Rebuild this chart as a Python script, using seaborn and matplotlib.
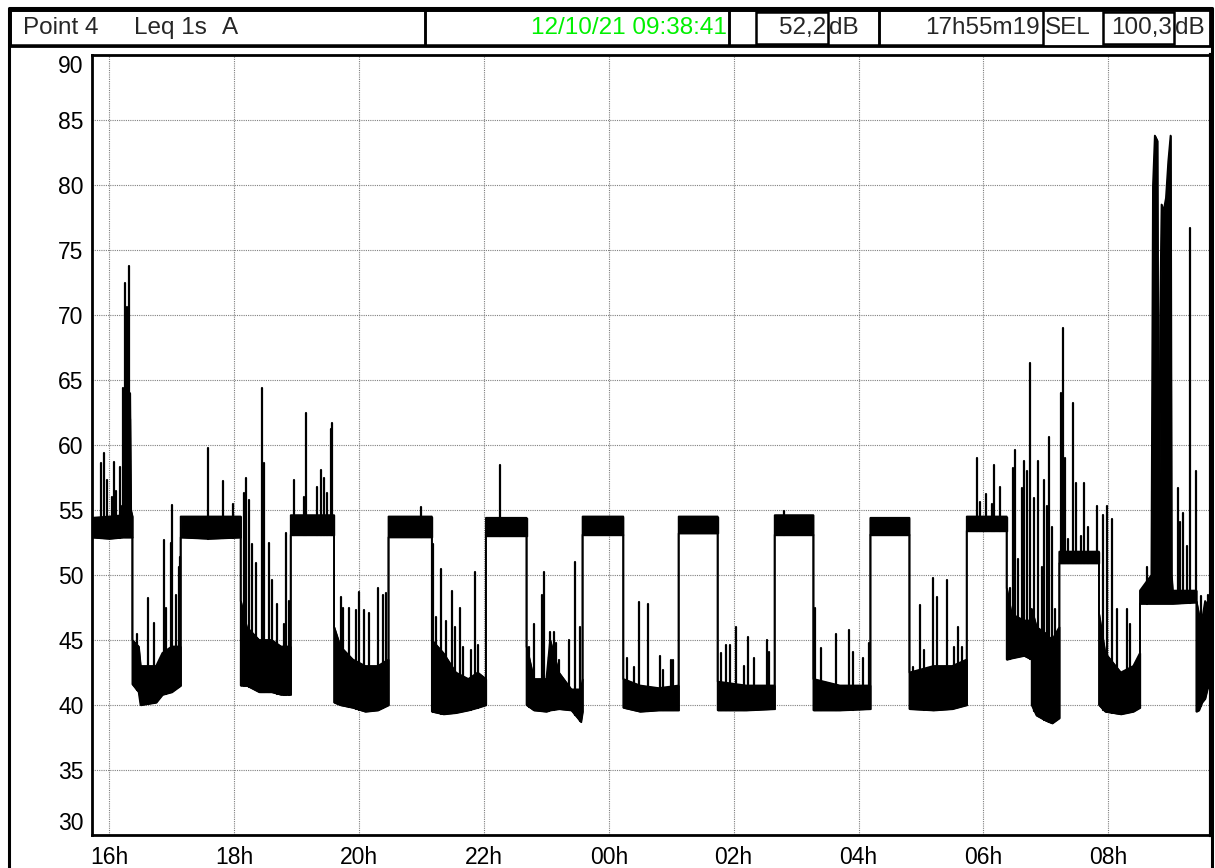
import numpy as np
import pandas as pd
import matplotlib
matplotlib.use("Agg")
import matplotlib.pyplot as plt
import seaborn as sns
from matplotlib.patches import Rectangle

# time in hours from midnight of the first day (values above 24 = next morning)
# band = dense 1s trace, given as low / high envelope
band_t = [15.72, 16.0, 16.22, 16.225, 16.245, 16.33, 16.345, 16.37,
          16.37, 16.47, 16.50, 16.75, 16.85, 17.00, 17.143,
          17.143, 17.6, 18.105,
          18.105, 18.20, 18.40, 18.60, 18.75, 18.906,
          18.906, 19.60,
          19.60, 19.70, 19.90, 20.10, 20.30, 20.472,
          20.472, 21.166,
          21.166, 21.35, 21.55, 21.75, 21.90, 22.032,
          22.032, 22.683,
          22.683, 22.80, 23.00, 23.06, 23.20, 23.40, 23.554, 23.58,
          23.58, 24.232,
          24.232, 24.50, 24.80, 25.119,
          25.119, 25.744,
          25.744, 26.20, 26.657,
          26.657, 27.277,
          27.277, 27.70, 28.19,
          28.19, 28.815,
          28.815, 29.20, 29.50, 29.733,
          29.733, 30.373,
          30.373, 30.45, 30.65, 30.773,
          30.773, 30.85, 31.00, 31.10, 31.216,
          31.216, 31.851,
          31.851, 31.95, 32.20, 32.40, 32.507,
          32.507, 32.69, 32.715, 32.745, 32.785, 32.80, 32.815, 32.83, 32.853,
          32.885, 32.923, 32.96, 32.997, 33.013, 33.03, 33.41,
          33.41, 33.45, 33.50, 33.55, 33.60, 33.6447]
band_lo = [52.9, 52.8, 52.9, 52.9, 52.9, 52.9, 52.9, 52.9,
           41.6, 41.0, 40.0, 40.2, 40.8, 41.0, 41.5,
           52.9, 52.8, 52.9,
           41.5, 41.5, 41.0, 41.0, 40.8, 40.8,
           53.1, 53.1,
           40.2, 40.0, 39.8, 39.5, 39.6, 40.0,
           52.9, 52.9,
           39.5, 39.3, 39.4, 39.6, 39.8, 40.0,
           53.0, 53.0,
           40.0, 39.6, 39.5, 39.6, 39.7, 39.6, 38.7, 39.5,
           53.1, 53.1,
           39.8, 39.5, 39.6, 39.6,
           53.2, 53.2,
           39.6, 39.6, 39.7,
           53.1, 53.1,
           39.6, 39.6, 39.7,
           53.1, 53.1,
           39.7, 39.6, 39.7, 40.0,
           53.4, 53.4,
           43.5, 43.6, 43.8, 43.5,
           40.0, 39.2, 38.8, 38.6, 39.0,
           50.9, 50.9,
           40.0, 39.5, 39.3, 39.5, 39.8,
           47.8, 47.8, 47.8, 47.8, 47.8, 47.8, 47.8, 47.8, 47.8,
           47.8, 47.8, 47.8, 47.8, 47.8, 47.8, 47.9,
           39.5, 39.6, 40.2, 40.5, 41.5, 42.5]
band_hi = [54.4, 54.5, 54.6, 58.0, 64.0, 64.0, 55.0, 54.5,
           45.0, 44.5, 43.0, 43.0, 44.0, 44.5, 44.5,
           54.5, 54.5, 54.5,
           48.0, 46.0, 45.0, 45.0, 44.5, 44.5,
           54.6, 54.6,
           46.0, 44.5, 43.5, 43.0, 43.0, 43.5,
           54.5, 54.5,
           45.0, 44.0, 42.5, 42.0, 42.5, 42.0,
           54.4, 54.4,
           44.5, 42.0, 42.0, 45.0, 42.5, 41.2, 41.2, 42.0,
           54.5, 54.5,
           42.0, 41.5, 41.3, 41.5,
           54.5, 54.5,
           41.8, 41.5, 41.5,
           54.6, 54.6,
           42.0, 41.5, 41.5,
           54.4, 54.4,
           42.5, 43.0, 43.0, 43.5,
           54.5, 54.5,
           49.0, 47.0, 46.5, 46.5,
           47.4, 46.0, 45.5, 45.0, 46.0,
           51.8, 51.8,
           47.0, 44.0, 42.5, 43.0, 44.0,
           48.8, 50.0, 79.9, 83.8, 83.4, 60.0, 51.0, 70.0, 78.5,
           78.0, 79.0, 81.8, 83.8, 50.0, 48.8, 48.8,
           48.0, 47.0, 46.5, 48.0, 47.5, 47.0]

# isolated peaks above the band
spike_t = [15.861, 15.915, 15.957, 16.048, 16.075, 16.10, 16.166, 16.198, 16.224, 16.251,
           16.272, 16.288, 16.305, 16.315, 16.33,
           16.45, 16.625, 16.716, 16.876, 16.903, 16.983, 17.01, 17.063, 17.116, 17.135,
           17.587, 17.822, 17.98,
           18.158, 18.185, 18.238, 18.29, 18.345, 18.44, 18.478, 18.559, 18.612, 18.692,
           18.80, 18.826, 18.88,
           18.96, 19.12, 19.15, 19.334, 19.398, 19.44, 19.484, 19.548, 19.574,
           19.708, 19.735, 19.84, 19.948, 20.0, 20.08, 20.162, 20.296, 20.376, 20.43,
           21.0,
           21.188, 21.23, 21.31, 21.39, 21.487, 21.54, 21.615, 21.658, 21.79, 21.855, 21.898,
           22.26,
           22.726, 22.806, 22.929, 22.966, 23.036, 23.062, 23.116, 23.153, 23.21, 23.367,
           23.463, 23.538,
           24.286, 24.408, 24.478, 24.633, 24.82, 24.873, 24.996, 25.033,
           25.797, 25.877, 25.94, 26.037, 26.171, 26.224, 26.32, 26.534, 26.572,
           26.81,
           27.309, 27.40, 27.64, 27.843, 27.918, 28.078, 28.163,
           28.868, 28.986, 29.056, 29.20, 29.253, 29.419, 29.536, 29.59, 29.653,
           29.893, 29.947, 30.043, 30.133, 30.171, 30.267,
           30.427, 30.469, 30.507, 30.56, 30.613, 30.651, 30.704, 30.747,
           30.816, 30.88, 30.933, 30.976, 31.013, 31.056, 31.093, 31.147,
           31.237, 31.28, 31.307, 31.36, 31.43, 31.483, 31.557, 31.611, 31.68, 31.813,
           31.92, 31.973, 32.053, 32.133, 32.304, 32.347,
           32.624, 33.12, 33.147, 33.20, 33.264, 33.307, 33.40,
           33.48, 33.59]
spike_peak = [58.6, 59.4, 57.3, 56.0, 58.7, 56.5, 58.3, 55.3, 64.4, 72.5,
              66.0, 70.6, 68.0, 73.8, 62.0,
              45.5, 48.2, 46.3, 52.7, 47.5, 52.5, 55.4, 48.5, 50.6, 51.4,
              59.8, 57.2, 55.5,
              56.3, 57.5, 55.8, 52.4, 50.9, 64.4, 58.6, 52.5, 49.6, 47.8,
              46.2, 53.2, 48.0,
              57.3, 56.0, 62.5, 56.8, 58.1, 57.5, 56.3, 61.2, 61.7,
              48.3, 47.5, 47.5, 47.3, 48.7, 47.3, 47.1, 49.0, 48.5, 48.6,
              55.2,
              52.4, 46.8, 50.5, 46.5, 48.8, 46.0, 47.5, 44.5, 44.2, 50.2, 44.6,
              58.5,
              44.5, 46.2, 48.5, 50.2, 43.7, 45.6, 45.6, 44.8, 43.5, 45.0,
              51.0, 46.0,
              43.6, 42.9, 47.9, 47.8, 43.8, 42.7, 43.5, 43.5,
              44.0, 44.6, 44.6, 46.0, 43.0, 45.2, 43.6, 45.0, 44.1,
              54.9,
              47.5, 44.4, 45.5, 45.8, 44.1, 43.6, 44.8,
              42.9, 47.7, 44.2, 49.8, 48.3, 49.6, 44.5, 46.0, 44.5,
              59.0, 55.6, 56.2, 55.5, 58.5, 56.8,
              49.0, 58.2, 59.6, 51.2, 56.7, 58.8, 58.0, 66.3,
              55.9, 58.8, 50.6, 57.3, 55.3, 60.6, 53.7, 47.4,
              64.0, 69.0, 59.0, 52.8, 63.2, 57.1, 53.0, 57.1, 53.7, 55.3,
              54.6, 55.3, 54.3, 47.4, 47.4, 46.2,
              50.6, 56.7, 54.1, 54.8, 52.2, 76.7, 58.0,
              48.4, 48.5]

x_ticks = [16, 18, 20, 22, 24, 26, 28, 30, 32]
x_labels = ["16h", "18h", "20h", "22h", "00h", "02h", "04h", "06h", "08h"]
y_ticks = list(range(30, 95, 5))

t_start = 15 + 43 / 60 + 22 / 3600   # 15:43:22
t_end = 33 + 38 / 60 + 41 / 3600     # 09:38:41 next day

date_txt = "12/10/21 09:38:41"
leq_txt = "52,2"
dur_txt = "17h55m19"
sel_txt = "100,3"

sns.set_style("white")
plt.rcParams['font.family'] = ['Liberation Sans', 'DejaVu Sans']
plt.rcParams['path.simplify'] = False

W, H = 1215, 868
fig = plt.figure(figsize=(W / 100, H / 100), dpi=100)

# background frame + header, drawn in pixel coordinates
frame = fig.add_axes([0, 0, 1, 1])
frame.set_xlim(0, W)
frame.set_ylim(H, 0)
frame.axis('off')
frame.plot([8.5, 8.5, 1212, 1212], [H + 5, 7.5, 7.5, H + 5], color='black', lw=2.2)

def box(x0, x1, y0=10, y1=45, lw=1.8):
    frame.add_patch(Rectangle((x0, y0), x1 - x0, y1 - y0, fill=False,
                              edgecolor='black', lw=lw))

box(10, 1210, 9.5, 46, lw=2)
box(10, 425)
box(425, 729)
box(729, 879)
box(756, 828, 12, 44)
box(879, 1043)
box(1103, 1174, 12, 44)

fs = 17.5
frame.text(23, 28, "Point 4", fontsize=fs, ha='left', va='center')
frame.text(134, 28, "Leq 1s", fontsize=fs, ha='left', va='center')
frame.text(222, 28, "A", fontsize=fs, ha='left', va='center')
frame.text(727, 28, date_txt, fontsize=fs, ha='right', va='center', color='#00f000')
frame.text(826, 28, leq_txt, fontsize=fs, ha='right', va='center')
frame.text(829, 28, "dB", fontsize=fs, ha='left', va='center')
frame.text(1040, 28, dur_txt, fontsize=fs, ha='right', va='center')
frame.text(1045, 28, "SEL", fontsize=fs, ha='left', va='center')
frame.text(1172, 28, sel_txt, fontsize=fs, ha='right', va='center')
frame.text(1175, 28, "dB", fontsize=fs, ha='left', va='center')

# main plot
ax = fig.add_axes([92 / W, (H - 835) / H, (1211 - 92) / W, (835 - 55) / H])
ax.set_facecolor('white')

# one filled block per level (a repeated time marks a jump)
bt = np.array(band_t)
blo = np.array(band_lo)
bhi = np.array(band_hi)
cuts = [0] + [i for i in range(1, len(bt)) if bt[i] == bt[i - 1]] + [len(bt)]
for a, b in zip(cuts[:-1], cuts[1:]):
    ax.fill_between(bt[a:b], blo[a:b], bhi[a:b], facecolor='black',
                    edgecolor='black', lw=1.0, zorder=3)

sns.lineplot(x=band_t, y=band_hi, estimator=None, sort=False, color='black',
             lw=1.3, ax=ax, zorder=3)
sns.lineplot(x=band_t, y=band_lo, estimator=None, sort=False, color='black',
             lw=1.3, ax=ax, zorder=3)

base = np.interp(spike_t, band_t, band_lo)
spk = pd.DataFrame({
    't': np.repeat(spike_t, 2),
    'v': np.column_stack([base, spike_peak]).ravel(),
    'id': np.repeat(np.arange(len(spike_t)), 2),
})
sns.lineplot(data=spk, x='t', y='v', units='id', estimator=None, sort=False,
             color='black', lw=1.6, ax=ax, legend=False, zorder=4)

ax.set_xlim(t_start, t_end)
ax.set_ylim(30, 90)
ax.set_xticks(x_ticks)
ax.set_xticklabels(x_labels)
ax.set_yticks(y_ticks)
ax.set_yticklabels([str(v) for v in y_ticks])
ax.set_xlabel('')
ax.set_ylabel('')

ax.grid(True, color='#7f7f7f', ls=(0, (1, 1)), lw=0.8)
ax.set_axisbelow(True)
for s in ax.spines.values():
    s.set_color('black')
    s.set_linewidth(2)
ax.spines['right'].set_linewidth(3)

ax.tick_params(axis='x', direction='out', length=6, width=1.2, labelsize=16.5,
               pad=2, colors='black')
ax.tick_params(axis='y', direction='out', length=4, width=1.2, labelsize=16.5,
               pad=2, colors='black')
ylabs = ax.get_yticklabels()
ylabs[-1].set_va('top')
ylabs[0].set_va('bottom')

fig.savefig("out.png", dpi=100)
